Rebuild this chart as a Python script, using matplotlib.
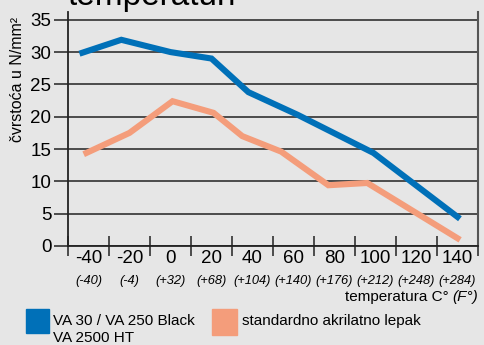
import matplotlib.pyplot as plt
from matplotlib.transforms import blended_transform_factory

plt.rcParams["font.family"] = ["Liberation Sans", "DejaVu Sans"]

# temperatures in C (positions)
blue_x = [-43, -24, 0, 20, 38, 62, 99, 140]
blue_y = [29.9, 31.9, 30.0, 29.0, 23.8, 20.3, 14.4, 4.5]
orange_x = [-41, -20, 1, 21, 35, 54, 77, 96, 140]
orange_y = [14.4, 17.5, 22.4, 20.6, 17.0, 14.6, 9.4, 9.75, 1.2]

celsius = [-40, -20, 0, 20, 40, 60, 80, 100, 120, 140]
fahrenheit = ["(-40)", "(-4)", "(+32)", "(+68)", "(+104)", "(+140)",
              "(+176)", "(+212)", "(+248)", "(+284)"]
yticks = [0, 5, 10, 15, 20, 25, 30, 35]

blue = "#0070b8"
orange = "#f49d7b"
bg = "#e6e6e6"

fig = plt.figure(figsize=(4.84, 3.45), dpi=100, facecolor=bg)
ax = fig.add_axes([68 / 484, 1 - 246 / 345, 410 / 484, 234 / 345], facecolor=bg)

ax.plot(blue_x, blue_y, color=blue, lw=4.4, solid_joinstyle="miter", zorder=3)
ax.plot(orange_x, orange_y, color=orange, lw=4.4, solid_joinstyle="miter", zorder=3)

ax.set_xlim(-50, 150)
ax.set_ylim(0, 36.2)
ax.set_yticks(yticks)
ax.set_yticklabels([str(v) for v in yticks], fontsize=13.5)
ax.yaxis.grid(True, color="#222222", lw=1.1)
ax.set_axisbelow(True)
ax.tick_params(axis="y", length=10, width=1.1, color="#222222", pad=2)

ax.set_xticks(range(-50, 151, 20))
ax.set_xticklabels([])
ax.tick_params(axis="x", direction="inout", length=15, width=1.1, color="#222222")
ax.set_xticks(celsius, minor=True)
ax.set_xticklabels([str(c) for c in celsius], minor=True, fontsize=13.5)
ax.tick_params(axis="x", which="minor", length=0, pad=3)

trans = blended_transform_factory(ax.transData, ax.transAxes)
for c, f in zip(celsius, fahrenheit):
    ax.text(c, -0.148, f, transform=trans, ha="center", va="center",
            fontsize=9.3, style="italic")

ax.spines["top"].set_visible(False)
ax.spines["left"].set_color("#222222")
ax.spines["left"].set_linewidth(1.3)
ax.spines["right"].set_color("#555555")
ax.spines["right"].set_linewidth(1.5)
ax.spines["bottom"].set_color("#222222")
ax.spines["bottom"].set_linewidth(1.3)

fig.text(18 / 484, 1 - 80 / 345, "čvrstoća u N/mm²", rotation=90,
         ha="center", va="center", fontsize=11.5)
# title is cut off by the top edge, as in the original
fig.text(68 / 484, 1 - 5 / 345, "temperaturi", fontsize=24, ha="left", va="baseline")

fig.text(0.987 - 0.052, 1 - 297 / 345, "temperatura C° ", fontsize=11,
         ha="right", va="center")
fig.text(0.987, 1 - 297 / 345, "(F°)", fontsize=11, style="italic",
         ha="right", va="center")

fig.patches.append(plt.Rectangle((26 / 484, 1 - 333 / 345), 23 / 484, 24 / 345,
                                 transform=fig.transFigure, color=blue))
fig.text(53 / 484, 1 - 321 / 345, "VA 30 / VA 250 Black", fontsize=11, va="center")
fig.text(53 / 484, 1 - 338 / 345, "VA 2500 HT", fontsize=11, va="center")
fig.patches.append(plt.Rectangle((212 / 484, 1 - 335 / 345), 25 / 484, 26 / 345,
                                 transform=fig.transFigure, color=orange))
fig.text(242 / 484, 1 - 321 / 345, "standardno akrilatno lepak", fontsize=11, va="center")

fig.savefig("out.png", dpi=100, facecolor=bg)
